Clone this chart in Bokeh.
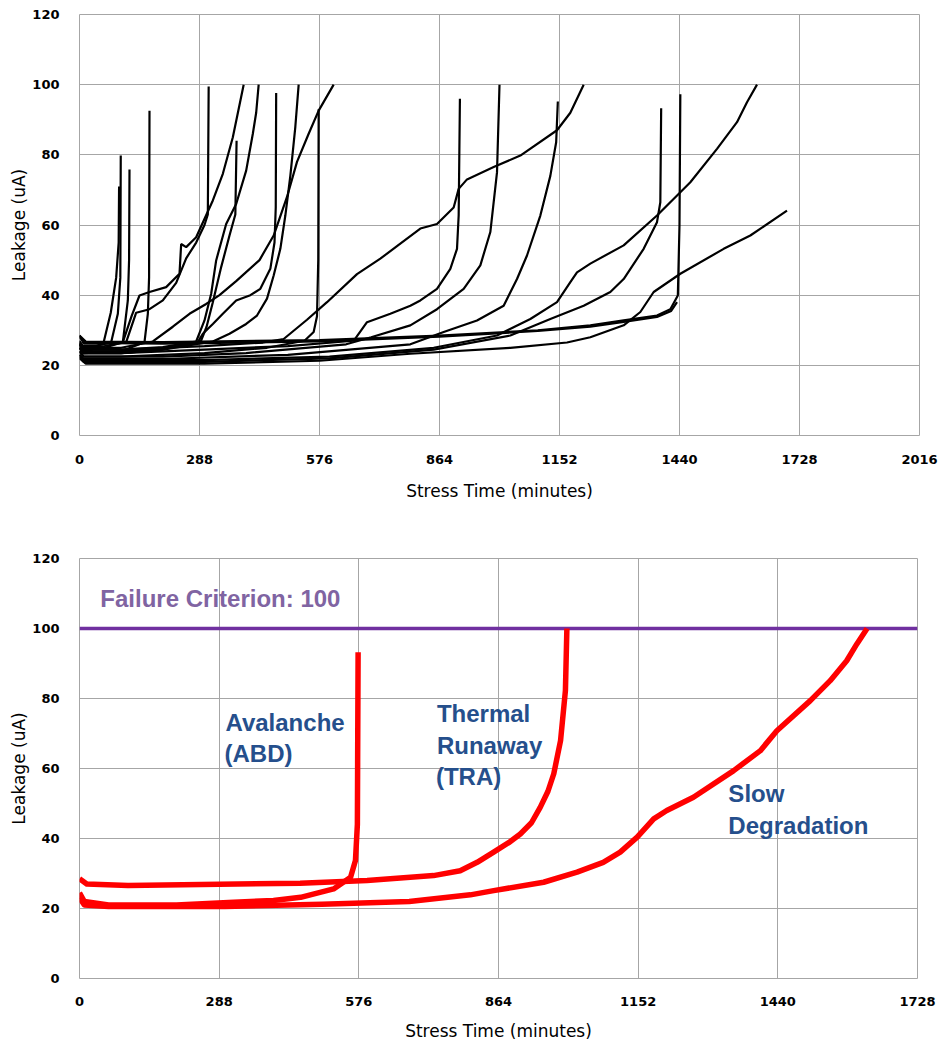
from bokeh.plotting import figure
from bokeh.models import Range1d, FixedTicker, Label
from bokeh.layouts import column
from bokeh.embed import file_html
from bokeh.resources import INLINE

# ---------------- data : top chart (leakage curves of all devices) ----------------
top_xticks = [0, 288, 576, 864, 1152, 1440, 1728, 2016]
bot_xticks = [0, 288, 576, 864, 1152, 1440, 1728]
yticks = [0, 20, 40, 60, 80, 100, 120]

t01_x = [0, 8, 30, 58, 75, 88, 94, 95]
t01_y = [26.0, 24.5, 24.5, 26.6, 35, 45, 55, 71]
t02_x = [0, 8, 40, 76, 92, 98, 99]
t02_y = [27.0, 25.5, 25.5, 26.6, 34.7, 45, 79.8]
t03_x = [0, 10, 60, 104, 116, 119, 120]
t03_y = [26.0, 24.5, 25.0, 26.6, 38.5, 50, 75.8]
t04_x = [0, 10, 100, 156, 164, 167, 168]
t04_y = [25.0, 23.5, 24.0, 26.6, 34.7, 45, 92.6]
t05_x = [0, 10, 60, 104, 125, 144, 168, 208, 240, 244, 256, 280, 320, 344, 368, 394]
t05_y = [28.5, 26.2, 26.2, 26.6, 34, 39.9, 40.9, 42.3, 46.1, 54.6, 53.7, 56.5, 67, 74.6, 85, 100]
t06_x = [0, 10, 60, 112, 136, 168, 200, 232, 256, 280, 300, 308, 310]
t06_y = [26.5, 25.0, 25.5, 26.6, 35, 36, 38.5, 43.5, 50.5, 55, 60, 63, 99.5]
t07_x = [0, 10, 100, 200, 280, 300, 316, 328, 352, 376, 400, 416, 424, 430]
t07_y = [26.0, 24.5, 24.5, 25.2, 26.8, 32.8, 40.4, 49.9, 60.3, 66, 75.5, 86, 92, 100]
t08_x = [0, 10, 100, 200, 290, 305, 320, 340, 360, 374, 377]
t08_y = [25.5, 24.0, 24.0, 24.8, 26.5, 31, 38, 48, 57, 63, 84]
t09_x = [0, 10, 100, 176, 224, 264, 304, 336, 376, 432, 466, 498, 522, 550, 574, 610]
t09_y = [26.5, 25.0, 25.0, 26.8, 31, 34.7, 37.5, 40, 44, 50, 57, 68, 78, 86, 92.6, 100]
t10_x = [0, 10, 100, 200, 284, 296, 320, 344, 376, 410, 434, 458, 468, 471, 472]
t10_y = [25.0, 23.5, 23.5, 24.5, 26.6, 29, 31.8, 34.7, 38.5, 40, 41.8, 47.5, 55, 65, 97.6]
t11_x = [0, 10, 100, 200, 320, 360, 400, 426, 450, 466, 482, 494, 506, 518, 526]
t11_y = [25.0, 23.5, 23.5, 24.5, 26.8, 29, 31.8, 34.2, 39, 45.6, 53.2, 62.7, 74, 88, 100]
t12_x = [0, 10, 100, 300, 450, 540, 562, 570, 573, 574]
t12_y = [24.0, 22.5, 22.5, 23.5, 25, 27, 29.5, 34, 50, 93]
t13_x = [0, 10, 100, 300, 440, 490, 546, 594, 666, 722, 762, 818, 858, 898, 910, 930, 994, 1058, 1146, 1178, 1210]
t13_y = [26.0, 24.5, 24.5, 25.5, 26.5, 27.5, 33, 38, 46, 50.4, 54, 59, 60.3, 65, 70.3, 73, 76.5, 79.8, 87, 92, 100]
t14_x = [0, 10, 100, 300, 500, 658, 690, 746, 794, 818, 858, 890, 906, 910, 913]
t14_y = [25.0, 23.5, 23.5, 24.5, 25.5, 27, 32.3, 34.7, 37, 38.5, 41.8, 47.5, 53.2, 62.7, 96]
t15_x = [0, 10, 200, 400, 640, 700, 794, 858, 922, 962, 986, 1002, 1008]
t15_y = [24.0, 22.5, 22.5, 23.5, 26, 28, 31.4, 36, 41.8, 48.5, 58, 75, 100]
t16_x = [0, 10, 200, 500, 794, 874, 954, 1018, 1050, 1074, 1106, 1130, 1144, 1148]
t16_y = [23.0, 21.8, 21.8, 23, 26, 29.5, 32.8, 37, 44.6, 51.3, 62.7, 74, 83.6, 95.2]
t17_x = [0, 10, 300, 600, 850, 1002, 1082, 1146, 1178, 1194, 1226, 1306, 1386, 1466, 1530, 1578, 1602, 1626]
t17_y = [23.0, 21.5, 21.5, 22.5, 25, 28.5, 33.2, 38, 43.7, 46.5, 49, 54.2, 62.7, 72.2, 81.7, 89.3, 95, 100]
t18_x = [0, 10, 300, 600, 850, 1034, 1130, 1210, 1274, 1306, 1354, 1386, 1394, 1396]
t18_y = [22.5, 21.0, 21.0, 22, 24.5, 28.5, 33.2, 37, 40.9, 44.6, 53.2, 60.8, 66.5, 93.3]
t19_x = [0, 15, 200, 576, 864, 1100, 1226, 1306, 1386, 1418, 1436, 1440, 1442]
t19_y = [28.5, 26.8, 26.6, 27.2, 28.5, 30, 31.4, 32.8, 34.2, 36, 39.9, 60, 97.3]
t20_x = [0, 15, 200, 576, 864, 1100, 1226, 1306, 1386, 1420, 1434]
t20_y = [28.0, 26.4, 26.2, 26.8, 28.2, 29.8, 31.0, 32.4, 33.8, 35.5, 38]
t21_x = [0, 15, 300, 576, 794, 1034, 1170, 1226, 1306, 1346, 1378, 1442, 1546, 1610, 1698]
t21_y = [22.0, 20.5, 20.5, 21.3, 23.3, 25, 26.5, 28, 31.4, 35.2, 40.9, 46.1, 53.2, 57, 64.1]

# ---------------- data : bottom chart (three failure modes) ----------------
abd_x = [0, 10, 60, 200, 318, 400, 456, 524, 559, 569, 573, 574.5]
abd_y = [24.5, 22, 21, 21, 21.8, 22.3, 23.2, 25.6, 28.9, 33.7, 44, 93.2]
tra_x = [0, 15, 100, 455, 593, 730, 785, 820, 854, 885, 909, 932, 950, 966, 978, 992, 1002, 1005]
tra_y = [28.5, 27, 26.6, 27.2, 28, 29.4, 30.8, 33.2, 36.1, 38.8, 41.3, 44.5, 48.9, 53.5, 58.5, 68, 82.3, 100]
slow_x = [0, 10, 60, 300, 500, 680, 806, 854, 957, 1026, 1080, 1115, 1150, 1184, 1211, 1266, 1349, 1404,
          1438, 1507, 1548, 1582, 1603, 1624]
slow_y = [23, 21, 20.6, 20.6, 21.2, 22, 23.9, 25.1, 27.5, 30.4, 33.2, 36.1, 40.4, 45.6, 48, 51.8, 59.4, 65.1,
          70.8, 79.4, 85.1, 90.8, 95.6, 100]
criterion_x = [0, 1728]
criterion_y = [100, 100]

top_curves = [(t01_x, t01_y), (t02_x, t02_y), (t03_x, t03_y), (t04_x, t04_y), (t05_x, t05_y),
              (t06_x, t06_y), (t07_x, t07_y), (t08_x, t08_y), (t09_x, t09_y), (t10_x, t10_y),
              (t11_x, t11_y), (t12_x, t12_y), (t13_x, t13_y), (t14_x, t14_y), (t15_x, t15_y),
              (t16_x, t16_y), (t17_x, t17_y), (t18_x, t18_y), (t19_x, t19_y), (t20_x, t20_y),
              (t21_x, t21_y)]

GRID = "#a6a6a6"
TICK_FONT = "DejaVu Sans"


def style(p, xticks):
    p.xaxis.ticker = FixedTicker(ticks=xticks)
    p.yaxis.ticker = FixedTicker(ticks=yticks)
    for ax in (p.xaxis[0], p.yaxis[0]):
        ax.axis_line_color = None
        ax.major_tick_line_color = None
        ax.minor_tick_line_color = None
        ax.major_label_text_font = TICK_FONT
        ax.major_label_text_font_style = "bold"
        ax.major_label_text_font_size = "13px"
        ax.major_label_text_color = "#000000"
        ax.axis_label_text_font = TICK_FONT
        ax.axis_label_text_font_style = "normal"
        ax.axis_label_text_font_size = "17px"
        ax.axis_label_text_color = "#000000"
    p.xaxis.axis_label = "Stress Time (minutes)"
    p.yaxis.axis_label = "Leakage (uA)"
    p.yaxis.major_label_standoff = 14
    p.yaxis.axis_label_standoff = 0
    p.xgrid.grid_line_color = GRID
    p.ygrid.grid_line_color = GRID
    p.outline_line_color = GRID
    p.outline_line_width = 1
    p.background_fill_color = "white"
    p.border_fill_color = "white"


p1 = figure(frame_width=840, frame_height=421, output_backend="svg", toolbar_location=None,
            x_range=Range1d(0, 2016), y_range=Range1d(0, 120),
            min_border_left=79, min_border_right=19, min_border_top=14, min_border_bottom=75)
style(p1, top_xticks)
p1.xaxis.major_label_standoff = 13
p1.xaxis.axis_label_standoff = 14
for cx, cy in top_curves:
    p1.line(cx, cy, line_color="black", line_width=2.2)

p2 = figure(frame_width=838, frame_height=420, output_backend="svg", toolbar_location=None,
            x_range=Range1d(0, 1728), y_range=Range1d(0, 120),
            min_border_left=79, min_border_right=21, min_border_top=48, min_border_bottom=62)
style(p2, bot_xticks)
p2.xaxis.major_label_standoff = 12
p2.xaxis.axis_label_standoff = 12

p2.line(criterion_x, criterion_y, line_color="#7030A0", line_width=3.5)
for cx, cy in [(abd_x, abd_y), (tra_x, tra_y), (slow_x, slow_y)]:
    p2.line(cx, cy, line_color="#ff0000", line_width=5.5, line_join="round")

BLUE = "#254F8C"
ann = [("Failure Criterion: 100", 43, 108.6, "#8064A2"),
       ("Avalanche", 301, 73.1, BLUE), ("(ABD)", 299, 64.3, BLUE),
       ("Thermal", 737, 75.7, BLUE), ("Runaway", 737, 66.6, BLUE), ("(TRA)", 735, 57.7, BLUE),
       ("Slow", 1338, 52.9, BLUE), ("Degradation", 1338, 43.7, BLUE)]
for txt, ax_, ay_, col in ann:
    p2.add_layout(Label(x=ax_, y=ay_, text=txt, text_color=col, text_font="Liberation Sans",
                        text_font_style="bold", text_font_size="24px",
                        text_align="left", text_baseline="middle"))

layout = column(p1, p2, spacing=0)
open("out.html", "w").write(file_html(layout, INLINE))
